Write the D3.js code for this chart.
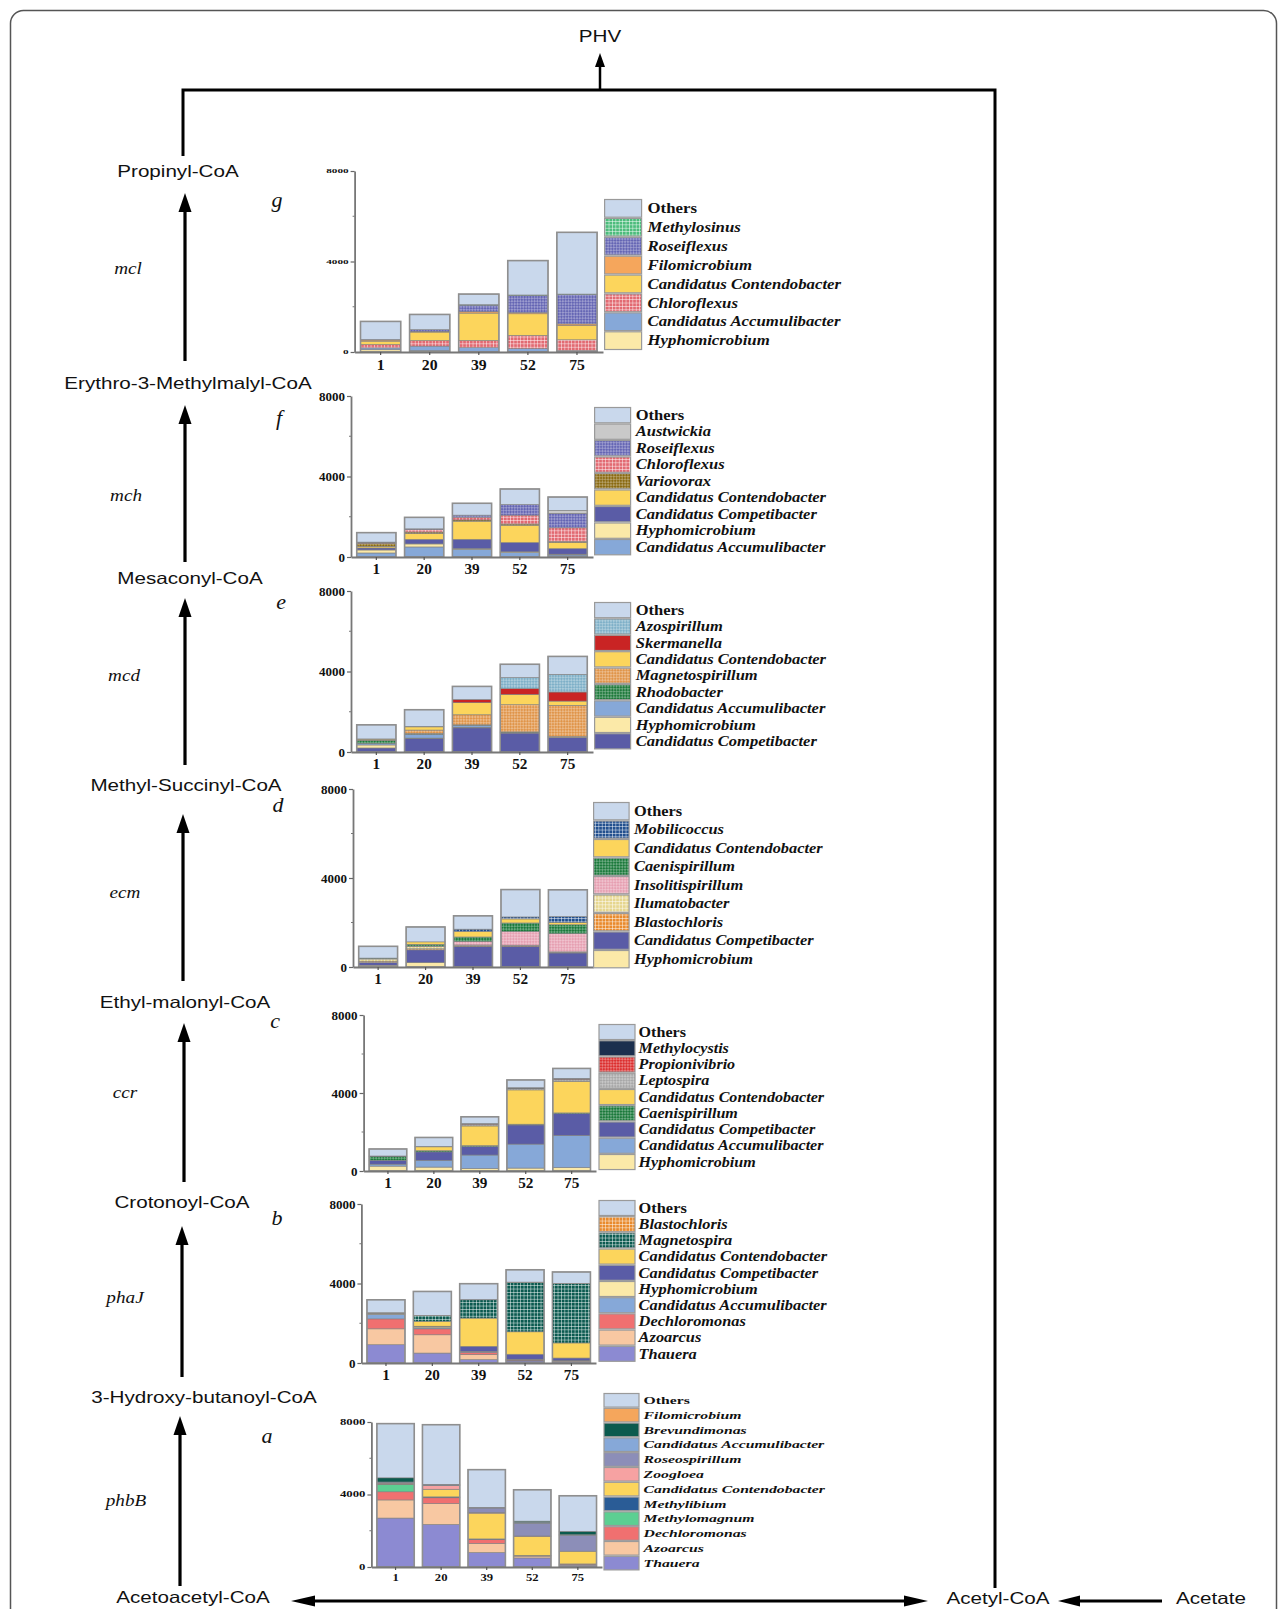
<!DOCTYPE html>
<html><head><meta charset="utf-8">
<script src="https://cdn.jsdelivr.net/npm/d3@7"></script>
<style>body{margin:0;background:#fff} svg{display:block}</style>
</head><body>
<svg id="chart" width="1287" height="1609"></svg>
<script>
// ---------------- DATA ----------------
const days = ["1", "20", "39", "52", "75"];
const yTicks = [0, 4000, 8000];

// Panel g (mcl) – stacked bottom → top
const taxaG = ["Hyphomicrobium","Candidatus Accumulibacter","Chloroflexus","Candidatus Contendobacter","Filomicrobium","Roseiflexus","Methylosinus","Others"];
const valuesG = [
  [100, 60, 30, 30, 20],
  [80, 200, 160, 120, 40],
  [150, 250, 325, 585, 480],
  [150, 370, 1205, 955, 630],
  [50, 30, 60, 50, 70],
  [20, 80, 290, 760, 1300],
  [0, 0, 20, 20, 20],
  [802, 670, 470, 1520, 2730]
];

// Panel f (mch)
const taxaF = ["Candidatus Accumulibacter","Hyphomicrobium","Candidatus Competibacter","Candidatus Contendobacter","Variovorax","Chloroflexus","Roseiflexus","Austwickia","Others"];
const valuesF = [
  [200, 500, 380, 220, 100],
  [150, 150, 40, 40, 40],
  [100, 230, 460, 460, 280],
  [80, 280, 900, 860, 310],
  [150, 80, 60, 60, 40],
  [30, 130, 140, 440, 680],
  [30, 30, 100, 530, 720],
  [0, 0, 0, 0, 150],
  [470, 570, 590, 770, 660]
];

// Panel e (mcd)
const taxaE = ["Candidatus Competibacter","Hyphomicrobium","Candidatus Accumulibacter","Rhodobacter","Magnetospirillum","Candidatus Contendobacter","Skermanella","Azospirillum","Others"];
const valuesE = [
  [200, 660, 1200, 940, 730],
  [150, 30, 30, 40, 40],
  [80, 190, 100, 0, 0],
  [150, 40, 20, 20, 0],
  [40, 170, 500, 1350, 1550],
  [30, 160, 600, 510, 210],
  [0, 0, 160, 290, 450],
  [0, 20, 0, 550, 880],
  [700, 830, 650, 660, 890]
];

// Panel d (ecm)
const taxaD = ["Hyphomicrobium","Candidatus Competibacter","Blastochloris","Ilumatobacter","Insolitispirillum","Caenispirillum","Candidatus Contendobacter","Mobilicoccus","Others"];
const valuesD = [
  [80, 200, 30, 30, 30],
  [120, 570, 900, 900, 600],
  [60, 50, 30, 30, 30],
  [100, 100, 30, 20, 20],
  [20, 20, 160, 620, 820],
  [20, 80, 200, 380, 400],
  [0, 110, 250, 180, 100],
  [0, 0, 100, 90, 270],
  [530, 670, 600, 1230, 1200]
];

// Panel c (ccr)
const taxaC = ["Hyphomicrobium","Candidatus Accumulibacter","Candidatus Competibacter","Caenispirillum","Candidatus Contendobacter","Leptospira","Propionivibrio","Methylocystis","Others"];
const valuesC = [
  [250, 200, 130, 150, 180],
  [100, 350, 690, 1230, 1650],
  [200, 430, 430, 980, 1110],
  [200, 60, 50, 40, 40],
  [0, 200, 1010, 1760, 1620],
  [0, 0, 80, 60, 80],
  [0, 0, 20, 30, 40],
  [20, 20, 20, 20, 30],
  [360, 460, 350, 400, 510]
];

// Panel b (phaJ)
const taxaB = ["Thauera","Azoarcus","Dechloromonas","Candidatus Accumulibacter","Hyphomicrobium","Candidatus Competibacter","Candidatus Contendobacter","Magnetospira","Blastochloris","Others"];
const valuesB = [
  [920, 500, 170, 100, 80],
  [800, 920, 250, 30, 30],
  [500, 300, 120, 20, 20],
  [230, 50, 30, 20, 0],
  [40, 50, 20, 20, 0],
  [20, 30, 250, 250, 120],
  [20, 250, 1420, 1130, 760],
  [0, 280, 920, 2480, 2980],
  [0, 20, 10, 20, 20],
  [650, 1200, 800, 620, 570]
];

// Panel a (phbB)
const taxaA = ["Thauera","Azoarcus","Dechloromonas","Methylomagnum","Methylibium","Candidatus Contendobacter","Zoogloea","Roseospirillum","Candidatus Accumulibacter","Brevundimonas","Filomicrobium","Others"];
const valuesA = [
  [2700, 2350, 800, 500, 100],
  [1000, 1150, 500, 100, 50],
  [450, 320, 220, 20, 20],
  [400, 30, 0, 0, 0],
  [20, 20, 30, 20, 0],
  [30, 420, 1420, 1050, 700],
  [30, 200, 30, 20, 0],
  [30, 20, 250, 700, 880],
  [30, 20, 20, 60, 30],
  [230, 0, 0, 60, 190],
  [0, 30, 20, 0, 0],
  [2990, 3290, 2080, 1730, 1960]
];

// Pathway text
const compounds = ["Propinyl-CoA","Erythro-3-Methylmalyl-CoA","Mesaconyl-CoA","Methyl-Succinyl-CoA","Ethyl-malonyl-CoA","Crotonoyl-CoA","3-Hydroxy-butanoyl-CoA","Acetoacetyl-CoA"];
const genes = ["mcl","mch","mcd","ecm","ccr","phaJ","phbB"];
const panelLetters = ["g","f","e","d","c","b","a"];

// ---------------- STYLE ----------------
const taxonColor = {
  "Others":"#c9d8ec",
  "Hyphomicrobium":"#fbe9a8",
  "Candidatus Accumulibacter":"#86a8d8",
  "Candidatus Competibacter":"#5a5ca6",
  "Candidatus Contendobacter":"#fcd55c",
  "Chloroflexus":"#e26a72",
  "Roseiflexus":"#6566b4",
  "Filomicrobium":"#f5a65c",
  "Methylosinus":"#4cbc7c",
  "Austwickia":"#c9c9c9",
  "Variovorax":"#8a6a12",
  "Azospirillum":"#7fb0c8",
  "Skermanella":"#c92424",
  "Magnetospirillum":"#e0954a",
  "Rhodobacter":"#1f7a3c",
  "Mobilicoccus":"#214f8e",
  "Caenispirillum":"#1c7a3c",
  "Insolitispirillum":"#e6a0b2",
  "Ilumatobacter":"#e6d68e",
  "Blastochloris":"#e98a2c",
  "Methylocystis":"#1b2f4e",
  "Propionivibrio":"#dc3030",
  "Leptospira":"#a8a8a8",
  "Magnetospira":"#0b5a50",
  "Dechloromonas":"#f07070",
  "Azoarcus":"#f8c8a2",
  "Thauera":"#8c8ad2",
  "Brevundimonas":"#0b5a4e",
  "Roseospirillum":"#8c8eb8",
  "Zoogloea":"#f6a2a2",
  "Methylibium":"#2a5c96",
  "Methylomagnum":"#5ccf92"
};
const taxonPattern = {
  "Chloroflexus":"grid","Methylosinus":"grid","Ilumatobacter":"grid","Blastochloris":"grid",
  "Mobilicoccus":"grid","Magnetospira":"grid",
  "Roseiflexus":"check","Variovorax":"check","Azospirillum":"check","Magnetospirillum":"check",
  "Insolitispirillum":"check","Caenispirillum":"check","Leptospira":"check","Propionivibrio":"check",
  "Rhodobacter":"check"
};

const SERIF = "'Liberation Serif','Times New Roman',serif";
const SANS = "'Liberation Sans',Arial,sans-serif";

const svg = d3.select("#chart");
const defs = svg.append("defs");
const patId = t => "p_" + t.replace(/[^A-Za-z]/g, "");
Object.keys(taxonPattern).forEach(t => {
  const c = taxonColor[t];
  if (taxonPattern[t] === "grid") {
    const p = defs.append("pattern").attr("id", patId(t)).attr("patternUnits","userSpaceOnUse").attr("width",3.4).attr("height",3.4);
    p.append("rect").attr("width",3.4).attr("height",3.4).attr("fill",c);
    p.append("path").attr("d","M0,0.4H3.4M0.4,0V3.4").attr("stroke","#fff").attr("stroke-opacity",0.6).attr("stroke-width",0.8);
  } else {
    const p = defs.append("pattern").attr("id", patId(t)).attr("patternUnits","userSpaceOnUse").attr("width",4).attr("height",4).attr("patternTransform","rotate(45)");
    p.append("rect").attr("width",4).attr("height",4).attr("fill",c);
    p.append("rect").attr("width",2).attr("height",2).attr("fill","#fff").attr("fill-opacity",0.35);
    p.append("rect").attr("x",2).attr("y",2).attr("width",2).attr("height",2).attr("fill","#fff").attr("fill-opacity",0.35);
  }
});
const fillFor = t => taxonPattern[t] ? `url(#${patId(t)})` : taxonColor[t];

function stext(g, x, y, txt, o) {
  return g.append("text")
    .attr("transform", `translate(${x},${y}) scale(${o.sx || 1},1)`)
    .attr("text-anchor", o.anchor || "start")
    .attr("font-family", o.family || SERIF)
    .attr("font-size", o.size)
    .attr("font-weight", o.weight || "normal")
    .attr("font-style", o.style || "normal")
    .attr("fill", "#111")
    .text(txt);
}

function arrow(g, x1, y1, x2, y2, w, hw, hl) {
  const dx = x2 - x1, dy = y2 - y1, L = Math.hypot(dx, dy), ux = dx / L, uy = dy / L;
  const bx = x2 - ux * hl, by = y2 - uy * hl;
  g.append("line").attr("x1",x1).attr("y1",y1).attr("x2",bx + ux*1).attr("y2",by + uy*1)
    .attr("stroke","#000").attr("stroke-width",w);
  g.append("path").attr("d",`M${x2},${y2}L${bx - uy*hw},${by + ux*hw}L${bx + uy*hw},${by - ux*hw}Z`).attr("fill","#000");
}

// ---------------- FRAME & PATHWAY ----------------
svg.append("rect").attr("x",10.5).attr("y",10.5).attr("width",1266).attr("height",1650).attr("rx",13)
  .attr("fill","none").attr("stroke","#555").attr("stroke-width",1.5);

const path = svg.append("g");
path.append("path").attr("d","M183,156V90H995V1588").attr("fill","none").attr("stroke","#000").attr("stroke-width",3);
arrow(path, 600, 90, 600, 53, 2.5, 5, 14);
stext(path, 600, 42, "PHV", {size:16.5, family:SANS, anchor:"middle", sx:1.25});

const compPos = [[178,177],[188,389],[190,584],[186,791],[185,1008],[182,1208],[204,1403],[193,1603]];
compounds.forEach((c,i) => stext(path, compPos[i][0], compPos[i][1], c, {size:16.5, family:SANS, anchor:"middle", sx:1.25}));

const arrows = [[185,361,193],[185,562,405],[185,765,598],[183,981,814],[184,1182,1023],[182,1377,1226],[180,1586,1416]];
arrows.forEach(a => arrow(path, a[0], a[1], a[0], a[2], 3.2, 6.5, 19));

const genePos = [[128,274],[126,501],[124,681],[125,898],[125,1098],[125,1303],[126,1506]];
genes.forEach((gname,i) => stext(path, genePos[i][0], genePos[i][1], gname, {size:16, style:"italic", anchor:"middle", sx:1.2}));

const letterPos = [[277,207],[279,425],[281,609],[278,812],[275,1028],[277,1225],[267,1443]];
panelLetters.forEach((l,i) => stext(path, letterPos[i][0], letterPos[i][1], l, {size:22, style:"italic", anchor:"middle"}));

arrow(path, 600, 1601, 291, 1601, 3, 5.5, 24);
arrow(path, 600, 1601, 928, 1601, 3, 5.5, 24);
stext(path, 998, 1604, "Acetyl-CoA", {size:16.5, family:SANS, anchor:"middle", sx:1.25});
arrow(path, 1162, 1601, 1058, 1601, 3, 5.5, 22);
stext(path, 1211, 1604, "Acetate", {size:16.5, family:SANS, anchor:"middle", sx:1.25});

// ---------------- PANELS ----------------
const panels = [
  {taxa:taxaG, values:valuesG, x0:354.6, x1:603, yBase:352, yTop:171, lx:604.6, ly:199, lw:37, lh:18.9, tx:647.5, ytf:7, ytsx:1.6, xtf:15, xtsx:1.05, ltf:14, lsx:1.2},
  {taxa:taxaF, values:valuesF, x0:351, x1:593, yBase:557, yTop:396, lx:594.6, ly:407, lw:36, lh:16.5, tx:635.7, ytf:13, ytsx:1, xtf:14.5, xtsx:1.05, ltf:14, lsx:1.18},
  {taxa:taxaE, values:valuesE, x0:351, x1:593, yBase:752, yTop:591, lx:594.6, ly:602, lw:36, lh:16.4, tx:635.7, ytf:13, ytsx:1, xtf:14.5, xtsx:1.05, ltf:14, lsx:1.18},
  {taxa:taxaD, values:valuesD, x0:353, x1:593, yBase:967, yTop:789, lx:593.6, ly:802, lw:35.5, lh:18.5, tx:634, ytf:13, ytsx:1, xtf:14.5, xtsx:1.05, ltf:14, lsx:1.17},
  {taxa:taxaC, values:valuesC, x0:363.6, x1:596, yBase:1171, yTop:1015, lx:599, ly:1024, lw:36, lh:16.25, tx:638.6, ytf:13, ytsx:1, xtf:14.5, xtsx:1.05, ltf:14, lsx:1.15},
  {taxa:taxaB, values:valuesB, x0:361.4, x1:596, yBase:1363, yTop:1204, lx:599, ly:1200, lw:36, lh:16.2, tx:638.6, ytf:13, ytsx:1, xtf:14.5, xtsx:1.05, ltf:14, lsx:1.17},
  {taxa:taxaA, values:valuesA, x0:371.4, x1:602, yBase:1567, yTop:1422, lx:604, ly:1393, lw:35, lh:14.8, tx:643.6, ytf:8.5, ytsx:1.5, xtf:11, xtsx:1.15, ltf:11, lsx:1.43}
];

panels.forEach(p => {
  const g = svg.append("g");
  const y = d3.scaleLinear().domain([0, 8000]).range([p.yBase, p.yTop]);
  const x = d3.scaleBand().domain(days).range([p.x0, p.x1]).paddingInner(0.18).paddingOuter(0.12);
  const rows = days.map((d, j) => {
    const r = {day: d};
    p.taxa.forEach((t, i) => r[t] = p.values[i][j]);
    return r;
  });
  const series = d3.stack().keys(p.taxa)(rows);

  series.forEach(s => {
    g.append("g").selectAll("rect").data(s.filter(d => d[1] > d[0])).join("rect")
      .attr("x", d => x(d.data.day)).attr("width", x.bandwidth())
      .attr("y", d => y(d[1])).attr("height", d => y(d[0]) - y(d[1]))
      .attr("fill", fillFor(s.key)).attr("stroke", "#7f7f7f").attr("stroke-width", 0.6);
  });
  const top = series[series.length - 1];
  g.append("g").selectAll("rect").data(top).join("rect")
    .attr("x", d => x(d.data.day)).attr("width", x.bandwidth())
    .attr("y", d => y(d[1])).attr("height", d => y(0) - y(d[1]))
    .attr("fill", "none").attr("stroke", "#8f8f8f").attr("stroke-width", 1.6);

  const ya = g.append("g").attr("transform", `translate(${p.x0},0)`)
    .call(d3.axisLeft(y).tickValues(yTicks).tickSize(4).tickSizeOuter(0).tickFormat(""));
  ya.select(".domain").attr("stroke", "#777").attr("stroke-width", 1.8);
  ya.selectAll(".tick line").attr("stroke", "#666").attr("stroke-width", 1.2);
  g.append("g").selectAll("line").data([2000, 6000]).join("line")
    .attr("x1", p.x0 - 2).attr("x2", p.x0).attr("y1", d => y(d)).attr("y2", d => y(d))
    .attr("stroke", "#777").attr("stroke-width", 1);
  yTicks.forEach(v => stext(g, p.x0 - 6, y(v) + p.ytf * 0.35, String(v), {size:p.ytf, weight:"bold", anchor:"end", sx:p.ytsx}));

  const xa = g.append("g").attr("transform", `translate(0,${p.yBase})`)
    .call(d3.axisBottom(x).tickSize(3).tickSizeOuter(0).tickFormat(""));
  xa.select(".domain").attr("stroke", "#777").attr("stroke-width", 1.8);
  xa.selectAll(".tick line").attr("stroke", "#555").attr("stroke-width", 1.2);
  days.forEach(d => stext(g, x(d) + x.bandwidth() / 2, p.yBase + 5 + p.xtf * 0.85, d, {size:p.xtf, weight:"bold", anchor:"middle", sx:p.xtsx}));

  const legendTaxa = p.taxa.slice().reverse();
  legendTaxa.forEach((t, i) => {
    const ry = p.ly + i * p.lh;
    g.append("rect").attr("x", p.lx).attr("y", ry + 0.5).attr("width", p.lw).attr("height", p.lh - 1.2)
      .attr("fill", fillFor(t)).attr("stroke", "#9a9a9a").attr("stroke-width", 1.2);
    stext(g, p.tx, ry + p.lh / 2 + p.ltf * 0.33, t, {size:p.ltf, weight:"bold", style: t === "Others" ? "normal" : "italic", sx:p.lsx});
  });
});
</script>
</body></html>
